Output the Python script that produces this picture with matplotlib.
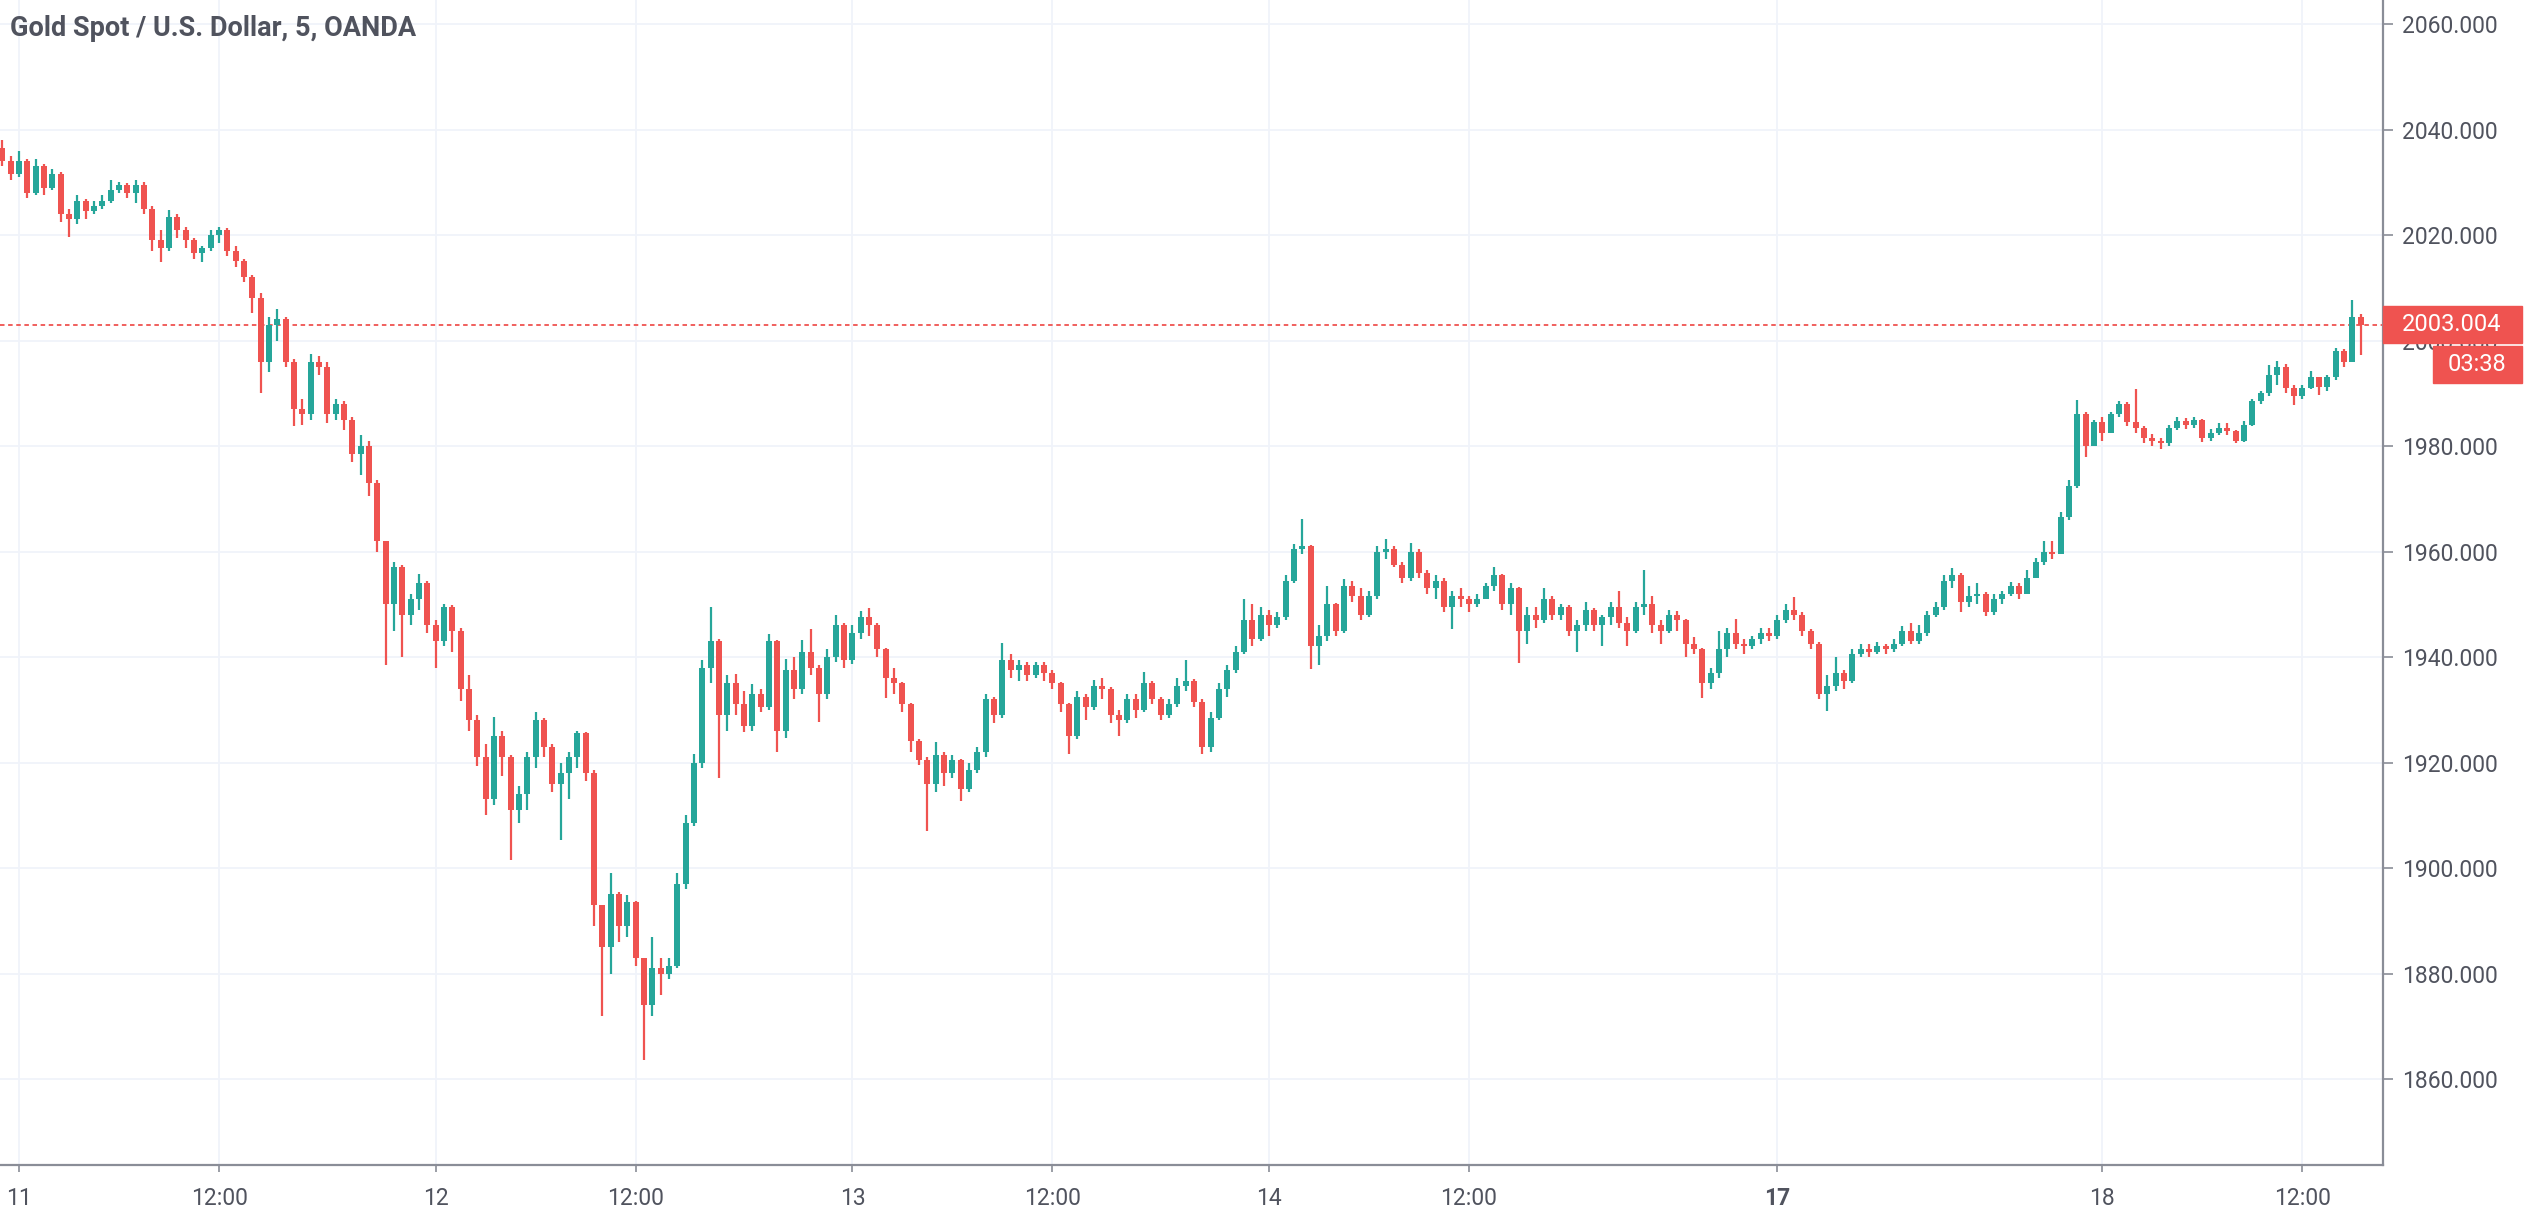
import numpy as np
import matplotlib
matplotlib.use("Agg")
import matplotlib.pyplot as plt
from matplotlib.patches import Rectangle

plt.rcParams['font.family'] = ['Roboto', 'DejaVu Sans']

# XAUUSD (one candle here ~ 30 min of the original 5-min chart)
title = "Gold Spot / U.S. Dollar, 5, OANDA"
first_open = 2036.5
closes = [
    2034, 2031.5, 2034, 2028, 2033, 2029, 2031.5, 2024, 2023, 2026.5,
    2024.5, 2025.5, 2026.5, 2028.5, 2029.5, 2028, 2029.5, 2025, 2019, 2017.5,
    2023.5, 2021, 2019, 2016.5, 2017.5, 2020, 2021, 2017, 2015, 2012,
    2008, 1996, 2003, 2004, 1996, 1987, 1986, 1996, 1995, 1986,
    1988, 1985, 1978.5, 1980, 1973, 1962, 1950, 1957, 1948, 1951,
    1954, 1946, 1943, 1949.5, 1945, 1934, 1928, 1921, 1913, 1925,
    1921, 1911, 1914, 1921, 1928, 1923, 1916, 1918, 1921, 1925.5,
    1918, 1893, 1885, 1895, 1889, 1893.5, 1883, 1874, 1881, 1880,
    1881.5, 1897, 1908.5, 1920, 1938, 1943, 1929, 1935, 1931, 1927,
    1933, 1930.5, 1943, 1926, 1937.5, 1934, 1941, 1938, 1933, 1940,
    1946, 1939.5, 1944.5, 1947.5, 1946, 1941.5, 1936, 1935, 1931, 1924,
    1920.5, 1916, 1921.5, 1918, 1920.5, 1915, 1918.5, 1922, 1932, 1929,
    1939.5, 1937.5, 1938.5, 1936.5, 1938.5, 1937, 1935, 1931, 1925, 1932.5,
    1930.5, 1934.5, 1934, 1929, 1928, 1932, 1930, 1935, 1932, 1929,
    1931, 1934.5, 1935.5, 1931.5, 1923, 1928.5, 1934, 1937.5, 1941, 1947,
    1943.5, 1948, 1946, 1947.5, 1954.5, 1960.5, 1961, 1942, 1944, 1950,
    1945, 1953.5, 1951.5, 1948, 1951.5, 1960, 1960.5, 1957.5, 1955, 1960,
    1956, 1953, 1954.5, 1949.5, 1951.5, 1951, 1950, 1951, 1953.5, 1955.5,
    1950, 1953, 1945, 1948, 1947, 1951, 1948, 1949.5, 1945, 1946,
    1949, 1946, 1947.5, 1949.5, 1946.5, 1945, 1949.5, 1950, 1946, 1945,
    1948, 1947, 1942.5, 1941.5, 1935, 1937, 1941.5, 1944.5, 1942.5, 1942,
    1943.5, 1944.5, 1944, 1947, 1949, 1948, 1945, 1942.5, 1933, 1934.5,
    1937, 1935.5, 1940.5, 1941.5, 1941, 1942, 1941.5, 1942.5, 1945, 1943,
    1944.5, 1948, 1949.5, 1954.5, 1955.5, 1950.5, 1951.5, 1952, 1948.5, 1951,
    1952, 1953.5, 1952, 1955, 1958, 1960, 1959.5, 1966.5, 1972.5, 1986,
    1980, 1984.5, 1982.5, 1986, 1988, 1984.5, 1983.5, 1981.5, 1981, 1980.5,
    1983.5, 1984.8, 1984, 1985, 1981.5, 1982.5, 1983.5, 1982.8, 1981, 1984,
    1988.5, 1990, 1993.5, 1995, 1991, 1989.5, 1991, 1993, 1991.2, 1993,
    1998, 1996, 2004.5, 2003.004,
]
highs = [
    2038, 2035, 2036, 2034.5, 2034.5, 2033.5, 2032.5, 2032, 2025, 2027.5,
    2026.8, 2026.5, 2027.5, 2030.5, 2030, 2029.8, 2030.5, 2030, 2025.5, 2021,
    2024.8, 2024, 2021.5, 2019.5, 2018, 2021, 2021.5, 2021.3, 2018, 2015.5,
    2012.5, 2009, 2004.5, 2006, 2004.5, 1996.5, 1989, 1997.5, 1997, 1996,
    1989, 1988.5, 1985.5, 1982, 1981, 1973.5, 1962, 1958, 1957.5, 1952,
    1955.7, 1954.5, 1947, 1950, 1949.8, 1945.5, 1936.5, 1929, 1923.5, 1928.6,
    1926, 1921.5, 1915.5, 1922, 1929.6, 1928.5, 1923.5, 1920, 1922, 1926,
    1925.8, 1918.5, 1893, 1899, 1895.5, 1894.8, 1893.8, 1883, 1887, 1883,
    1883, 1899, 1910, 1921.6, 1939.5, 1949.5, 1943.5, 1936.5, 1936.7, 1933.5,
    1934.8, 1934, 1944.4, 1943.2, 1939.6, 1940, 1943.3, 1945.4, 1938.5, 1941.5,
    1948, 1946.5, 1946, 1948.7, 1949.3, 1946.5, 1941.8, 1938, 1935.3, 1931.2,
    1924.5, 1921, 1923.8, 1922, 1921.5, 1920.7, 1920, 1923, 1933, 1932.5,
    1942.7, 1940.5, 1939.5, 1939, 1939, 1939, 1937.5, 1935.2, 1931.3, 1933.5,
    1933, 1935.6, 1936, 1934.3, 1930, 1933, 1933, 1937.2, 1935.5, 1932.5,
    1932, 1936, 1939.4, 1935.8, 1932, 1929.5, 1935, 1938.5, 1942, 1951,
    1950, 1949.5, 1949, 1948.5, 1955.5, 1961.5, 1966.2, 1961.3, 1946, 1953.4,
    1950.3, 1954.7, 1954.5, 1953, 1952.5, 1961, 1962.4, 1961, 1958, 1961.6,
    1960.5, 1956.5, 1955.5, 1955, 1952.5, 1953, 1951.5, 1952, 1954, 1957,
    1955.8, 1954, 1953.3, 1949.5, 1949.5, 1953, 1951.5, 1950, 1949.8, 1947,
    1950.5, 1949.3, 1948, 1950.5, 1952.5, 1947.5, 1950.5, 1956.4, 1951.5, 1947,
    1949, 1948.8, 1947.3, 1943.8, 1941.8, 1938, 1945, 1945.5, 1947.2, 1943.5,
    1944, 1945.5, 1945.5, 1948, 1950, 1951.4, 1948.5, 1945.3, 1942.8, 1936.5,
    1940, 1937.5, 1941.5, 1942.5, 1942.5, 1942.8, 1942.5, 1943.5, 1945.8, 1946.5,
    1946, 1948.8, 1950.5, 1955.5, 1956.8, 1956, 1953.5, 1954, 1952.3, 1952,
    1952.5, 1954.3, 1954, 1956.5, 1958.8, 1962, 1962, 1967.5, 1973.5, 1988.7,
    1986.5, 1985, 1985.5, 1986.5, 1988.5, 1988.3, 1990.9, 1983.8, 1982.2, 1981.5,
    1984, 1985.5, 1985.3, 1985.5, 1985.2, 1983.2, 1984.3, 1984.3, 1983, 1984.8,
    1989, 1990.5, 1995.3, 1996.2, 1995.5, 1991.5, 1991.5, 1994.3, 1993, 1993.5,
    1998.5, 1998.4, 2007.6, 2005,
]
lows = [
    2033, 2030.5, 2031, 2027, 2027.5, 2027.5, 2028.5, 2022.5, 2019.7, 2022,
    2023, 2024, 2025, 2026, 2028, 2027, 2026, 2024, 2017, 2014.8,
    2017, 2019.5, 2017.5, 2015.5, 2014.8, 2017, 2018.5, 2016, 2014, 2011,
    2005.3, 1990, 1994, 2000, 1995, 1983.8, 1984, 1985, 1993.5, 1984.4,
    1985, 1983, 1977, 1974.5, 1970.5, 1960, 1938.5, 1945, 1940, 1946,
    1949, 1944.5, 1938, 1942, 1941, 1931.7, 1926, 1919.3, 1910, 1912,
    1917.5, 1901.5, 1908.5, 1911, 1919, 1921, 1914.5, 1905.4, 1913, 1919,
    1916.5, 1889, 1872, 1880, 1886, 1887, 1881.5, 1863.6, 1872, 1876,
    1879, 1881, 1896, 1908, 1919, 1935, 1917, 1926, 1929, 1925.7,
    1926, 1929.5, 1930, 1922, 1924.7, 1932, 1933, 1936.5, 1927.6, 1932,
    1939, 1938, 1938.6, 1943.5, 1944, 1940, 1932.3, 1933, 1929.5, 1922,
    1919.5, 1907, 1914.5, 1915.5, 1917, 1912.7, 1914.5, 1918, 1921, 1927.5,
    1928.5, 1936, 1935.5, 1935.5, 1936, 1935.5, 1934, 1929.5, 1921.6, 1924.5,
    1928, 1930, 1932, 1927.5, 1925, 1927.5, 1928.5, 1929.5, 1931, 1928,
    1928.5, 1930.5, 1933.5, 1930.5, 1921.6, 1922, 1928, 1932.5, 1937, 1940.5,
    1942, 1943, 1944, 1945.5, 1947, 1954, 1959.5, 1937.8, 1938.5, 1943,
    1944, 1944.5, 1950.5, 1947, 1947.5, 1951, 1958.5, 1957, 1954, 1954.5,
    1955, 1952, 1951, 1948.5, 1945.3, 1949.5, 1948.5, 1949.5, 1951, 1952.5,
    1949, 1948, 1938.8, 1942.5, 1945.5, 1946.5, 1947, 1947, 1944, 1941,
    1945, 1945, 1942, 1946, 1945.5, 1942, 1944.5, 1948, 1944.5, 1942.5,
    1944.5, 1945, 1940, 1940.5, 1932.2, 1934, 1936, 1940, 1941.5, 1940.5,
    1941.5, 1942.5, 1943, 1943.5, 1946.5, 1947, 1944, 1941.5, 1932, 1929.7,
    1933.5, 1934, 1935, 1940, 1940, 1940.5, 1940.5, 1941, 1942, 1942.5,
    1942.5, 1944, 1947.5, 1949, 1953, 1948.6, 1949.5, 1950, 1947.7, 1948,
    1950, 1951.5, 1951, 1952, 1955, 1957.5, 1958.5, 1959.5, 1966, 1972,
    1978, 1980, 1981, 1982.5, 1985.5, 1983.8, 1982.5, 1980.5, 1980, 1979.5,
    1980, 1983, 1983.3, 1983.5, 1980.8, 1981, 1982, 1982, 1980.5, 1980.8,
    1983.8, 1988, 1989.5, 1991.5, 1990, 1987.7, 1989, 1990.8, 1989.6, 1990.5,
    1992.5, 1995, 1996, 1997.2,
]
# bar index where each time label sits
tick_idx = [2, 26, 52, 76, 102, 126, 152, 176, 213, 252, 276]
tick_labels = ['11', '12:00', '12', '12:00', '13', '12:00', '14', '12:00', '17', '18', '12:00']
price_ticks = [1860, 1880, 1900, 1920, 1940, 1960, 1980, 2000, 2020, 2040, 2060]
countdown = "03:38"

GREEN = '#26a69a'
RED = '#ef5350'
TXT = '#50535e'
AXC = '#8a8d97'
GRID = '#f0f3fa'

c = np.array(closes)
h = np.array(highs)
l = np.array(lows)
o = np.array([first_open] + closes[:-1])
x = np.arange(len(c))
colors = np.where(c >= o, GREEN, RED)

W, H = 2525, 1212
fig = plt.figure(figsize=(W / 100, H / 100), dpi=100)
ax = fig.add_axes([0, 47 / H, 2383 / W, 1165 / H])

top = np.maximum(h, np.maximum(o, c))
bot = np.minimum(l, np.minimum(o, c))
ax.vlines(x, bot, top, colors=colors, lw=1.6, zorder=3)
body = np.maximum(np.abs(c - o), 0.2)
ax.bar(x, body, bottom=np.minimum(o, c), width=0.72, color=colors, linewidth=0, zorder=3)

last = closes[-1]
ax.axhline(last, color=RED, lw=1.3, ls=(0, (2.5, 2)), zorder=2)

ax.set_xlim(-0.3, 285.7)
ax.set_ylim(1843.7, 2064.55)

ax.set_xticks(tick_idx)
ax.set_xticklabels(tick_labels)
for lab in ax.get_xticklabels():
    if lab.get_text() == '17':
        lab.set_fontweight('bold')
ax.set_yticks(price_ticks)
ax.set_yticklabels([f"{p:.3f}" for p in price_ticks])
ax.yaxis.tick_right()

ax.grid(True, color=GRID, lw=1.3)
ax.set_axisbelow(True)
for s in ['left', 'top']:
    ax.spines[s].set_visible(False)
for s in ['right', 'bottom']:
    ax.spines[s].set_color(AXC)
    ax.spines[s].set_linewidth(1.6)
ax.tick_params(axis='x', colors=AXC, labelcolor=TXT, labelsize=16.5, length=5, width=1.2, pad=11)
ax.tick_params(axis='y', colors=AXC, labelcolor=TXT, labelsize=16.5, length=7, width=1.2, pad=7)

fig.text(10 / W, 1 - 36 / H, title, fontsize=19.5, fontweight='bold', color=TXT, va='baseline')

# last price label boxes on the price scale
ypix = ax.transData.transform((0, last))[1]
bh = 37
fig.add_artist(Rectangle((2383 / W, (ypix - bh / 2) / H), 139 / W, bh / H,
                         transform=fig.transFigure, color=RED, zorder=5))
fig.text(2452 / W, ypix / H, f"{last:.3f}", color='white', fontsize=17,
         ha='center', va='center', zorder=6)
y2 = ypix - bh / 2 - 3 - bh / 2
fig.add_artist(Rectangle((2433 / W, (y2 - bh / 2) / H), 89 / W, bh / H,
                         transform=fig.transFigure, color=RED, zorder=5))
fig.text(2477 / W, y2 / H, countdown, color='white', fontsize=17,
         ha='center', va='center', zorder=6)

fig.savefig('out.png', dpi=100, facecolor='white')
